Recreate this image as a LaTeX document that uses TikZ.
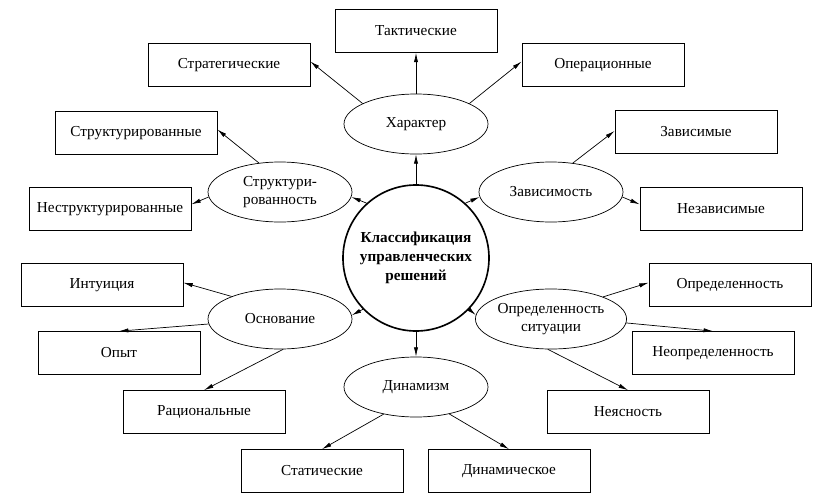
\documentclass[tikz,border=0pt]{standalone}
\usepackage{fontspec}
\setmainfont{Liberation Serif}
\usetikzlibrary{shapes.geometric,arrows.meta}
\tikzset{
  catbox/.style={draw, line width=0.6pt, minimum width=4.86cm, minimum height=1.29cm,
    inner sep=2pt, font=\fontsize{13}{15.5}\selectfont},
  critell/.style={ellipse, draw, line width=0.6pt, minimum width=4.32cm, minimum height=1.8cm,
    inner sep=0pt, align=center, font=\fontsize{13}{15.5}\selectfont},
  rootcirc/.style={circle, draw, line width=1.4pt, minimum size=4.38cm, inner sep=0pt,
    align=center, font=\fontsize{13}{16.5}\selectfont\bfseries},
  arr/.style={-{Latex[length=8pt,width=3.6pt]}, line width=0.6pt},
}
\begin{document}
\begin{tikzpicture}[x=0.03cm, y=-0.03cm]
  \useasboundingbox (0,0) rectangle (828,501);
  % centre
  \node[rootcirc] (root) at (416,258) {Классификация\\управленческих\\решений};
  % criteria
  \node[critell] (harakter) at (416,124) {Характер};
  \node[critell] (struktur) at (280,192) {Структури-\\рованность};
  \node[critell] (zavisim)  at (551,192) {Зависимость};
  \node[critell] (osnov)    at (280,319) {Основание};
  \node[critell] (opredsit) at (551,319) {Определенность\\ситуации};
  \node[critell] (dinamizm) at (416,387) {Динамизм};
  % kinds
  \node[catbox] (takt)   at (416,31)  {Тактические};
  \node[catbox] (strat)  at (229,65)  {Стратегические};
  \node[catbox] (oper)   at (603,65)  {Операционные};
  \node[catbox] (strk)   at (136,133) {Структурированные};
  \node[catbox] (nestrk) at (110,209) {Неструктурированные};
  \node[catbox] (zavis)  at (696,132) {Зависимые};
  \node[catbox] (nezav)  at (721,209) {Независимые};
  \node[catbox] (intu)   at (102,285) {Интуиция};
  \node[catbox] (opyt)   at (119,353) {Опыт};
  \node[catbox] (rats)   at (204,412) {Рациональные};
  \node[catbox] (opred)  at (730,285) {Определенность};
  \node[catbox] (neopr)  at (713,353) {Неопределенность};
  \node[catbox] (neyas)  at (628,412) {Неясность};
  \node[catbox] (stat)   at (322,471) {Статические};
  \node[catbox] (dinam)  at (509,471) {Динамическое};
  % centre -> criteria
  \draw[arr] (root.90)  -- (harakter.south);
  \draw[arr] (root.132) -- (struktur.356);
  \draw[arr] (root.48)  -- (zavisim.184);
  \draw[arr] (root.224) -- (osnov.3);
  \draw[arr] (root.316) -- (opredsit.177);
  \draw[arr] (root.270) -- (dinamizm.north);
  % criteria -> kinds
  \draw[arr] (harakter.159) -- ([yshift=3pt]strat.east);
  \draw[arr] (harakter.north) -- (takt.south);
  \draw[arr] (harakter.21) -- ([yshift=3pt]oper.west);
  \draw[arr] (struktur.126) -- ([yshift=3pt]strk.east);
  \draw[arr] (struktur.184) -- ([yshift=4pt]nestrk.east);
  \draw[arr] (zavisim.53) -- ([yshift=1pt]zavis.west);
  \draw[arr] (zavisim.356) -- ([yshift=4pt]nezav.west);
  \draw[arr] (osnov.155) -- ([yshift=2pt]intu.east);
  \draw[arr] (osnov.184) -- (opyt.north);
  \draw[arr] (osnov.276) -- (rats.north);
  \draw[arr] (opredsit.23) -- ([yshift=2pt]opred.west);
  \draw[arr] (opredsit.357) -- (neopr.north);
  \draw[arr] (opredsit.264) -- (neyas.north);
  \draw[arr] (dinamizm.220) -- (stat.north);
  \draw[arr] (dinamizm.321) -- (dinam.north);
\end{tikzpicture}
\end{document}
